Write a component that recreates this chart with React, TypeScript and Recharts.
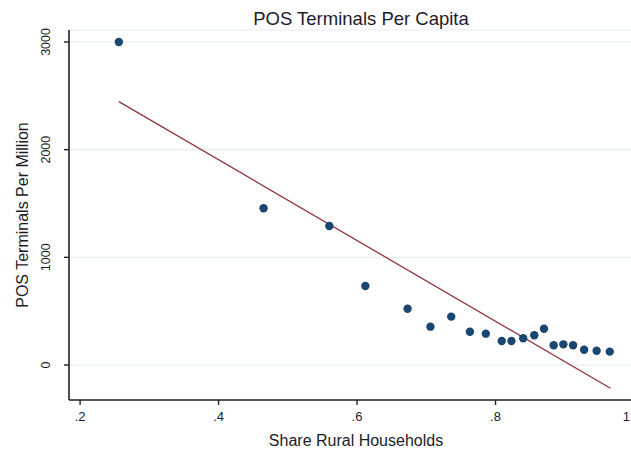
import React from "react";
import {
  ScatterChart,
  Scatter,
  XAxis,
  YAxis,
  CartesianGrid,
  Label,
} from "recharts";

// Share of rural households vs. POS terminals per million people
const ruralShare = [
  0.256, 0.465, 0.56, 0.612, 0.673, 0.706, 0.736, 0.763, 0.786, 0.809,
  0.823, 0.84, 0.856, 0.87, 0.884, 0.898, 0.912, 0.928, 0.946, 0.965,
];
const posPerMillion = [
  3000, 1455, 1291, 734, 523, 356, 449, 309, 291, 223,
  223, 248, 276, 337, 183, 192, 183, 142, 133, 124,
];

// Linear fit endpoints
const fitX = [0.256, 0.966];
const fitY = [2446, -216];

const xTicks = [0.2, 0.4, 0.6, 0.8, 1];
const yTicks = [0, 1000, 2000, 3000];

const points = ruralShare.map((x, i) => ({ x, y: posPerMillion[i] }));
const fitLine = fitX.map((x, i) => ({ x, y: fitY[i] }));

const FONT = "'Liberation Sans', Arial, sans-serif";
const TEXT = "#1c1c28";
const AXIS = "#222";
const VIEW_W = 631;

const fmtX = (v: number) => (v === 1 ? "1" : String(v).replace(/^0/, ""));

const XTick = (props: any) => {
  const { x, payload } = props;
  // keep the last label inside the visible area
  const atEdge = x + 5 > VIEW_W;
  return (
    <text
      x={atEdge ? VIEW_W - 1 : x}
      y={421}
      textAnchor={atEdge ? "end" : "middle"}
      fontFamily={FONT}
      fontSize={13}
      fill={TEXT}
    >
      {fmtX(payload.value)}
    </text>
  );
};

const YTick = (props: any) => {
  const { y, payload } = props;
  const cx = 46;
  return (
    <text
      x={cx}
      y={y}
      transform={`rotate(-90, ${cx}, ${y})`}
      textAnchor="middle"
      dominantBaseline="central"
      fontFamily={FONT}
      fontSize={12.5}
      fill={TEXT}
    >
      {payload.value}
    </text>
  );
};

const Dot = (props: any) => (
  <circle cx={props.cx} cy={props.cy} r={4.2} fill="#1a476f" />
);

const NoDot = () => <g />;

export default function App() {
  return (
    <div
      style={{
        position: "absolute",
        left: 0,
        top: 0,
        width: VIEW_W,
        height: 449,
        overflow: "hidden",
        background: "#fff",
      }}
    >
      <ScatterChart
        width={640}
        height={449}
        margin={{ top: 30, right: 6, bottom: 0, left: 0 }}
      >
        <CartesianGrid
          horizontal
          vertical={false}
          stroke="#e6eef3"
          strokeWidth={1.2}
        />
        <XAxis
          type="number"
          dataKey="x"
          domain={[0.184, 1.0]}
          allowDataOverflow
          ticks={xTicks}
          tick={<XTick />}
          tickSize={5}
          height={49}
          axisLine={{ stroke: AXIS, strokeWidth: 1.6 }}
          tickLine={{ stroke: AXIS, strokeWidth: 1.4 }}
        >
          <Label
            content={() => (
              <text
                x={356}
                y={446}
                textAnchor="middle"
                fontFamily={FONT}
                fontSize={16}
                fill={TEXT}
              >
                Share Rural Households
              </text>
            )}
          />
        </XAxis>
        <YAxis
          type="number"
          dataKey="y"
          domain={[-325, 3111]}
          allowDataOverflow
          ticks={yTicks}
          tick={<YTick />}
          tickSize={5}
          width={69}
          axisLine={{ stroke: AXIS, strokeWidth: 1.6 }}
          tickLine={{ stroke: AXIS, strokeWidth: 1.4 }}
        >
          <Label
            content={() => (
              <text
                x={22}
                y={215}
                transform="rotate(-90, 22, 215)"
                textAnchor="middle"
                dominantBaseline="central"
                fontFamily={FONT}
                fontSize={16}
                fill={TEXT}
              >
                POS Terminals Per Million
              </text>
            )}
          />
        </YAxis>
        <Scatter
          data={fitLine}
          line={{ stroke: "#90353b", strokeWidth: 1.3 }}
          shape={<NoDot />}
          isAnimationActive={false}
        />
        <Scatter
          data={points}
          shape={<Dot />}
          isAnimationActive={false}
        />
      </ScatterChart>
      <svg
        width={VIEW_W}
        height={30}
        style={{ position: "absolute", left: 0, top: 0 }}
      >
        <text
          x={361}
          y={25}
          textAnchor="middle"
          fontFamily={FONT}
          fontSize={18.5}
          fill={TEXT}
        >
          POS Terminals Per Capita
        </text>
      </svg>
    </div>
  );
}
